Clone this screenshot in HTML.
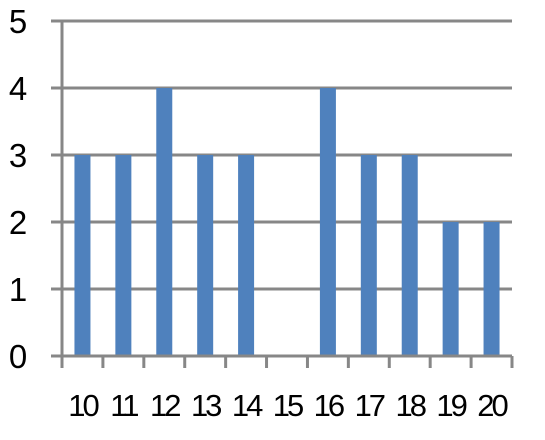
<!DOCTYPE html>
<html><head><meta charset="utf-8"><style>
html,body{margin:0;padding:0;background:#fff;}
svg{display:block;font-family:"Liberation Sans",sans-serif;}
</style></head><body>
<svg id="chart" width="545" height="440" viewBox="0 0 545 440"></svg>
<script>
const categories = ["10","11","12","13","14","15","16","17","18","19","20"];
const values = [3,3,4,3,3,0,4,3,3,2,2];
const yTicks = [0,1,2,3,4,5];

const svg = document.getElementById('chart');
const NS = 'http://www.w3.org/2000/svg';
const x0 = 62, x1 = 512, yBase = 356, yTop = 21, yMax = 5;
const band = (x1 - x0) / categories.length;
const barW = 16;
function yScale(v){ return yBase - (yBase - yTop) * v / yMax; }
function xScale(i){ return x0 + band * i; }
function mk(tag, attrs){ const e = document.createElementNS(NS, tag); for (const k in attrs) e.setAttribute(k, attrs[k]); svg.appendChild(e); return e; }

yTicks.forEach(t => {
  const y = yScale(t);
  const g = mk('line', {x1: 51, x2: x1, y1: y, y2: y, stroke: '#878787', 'stroke-width': 3});
  
  
  const tx = mk('text', {x: 18, y: y + 12, 'font-size': 33, 'text-anchor': 'middle', fill: '#000'});
  tx.textContent = t;
  
  
});

values.forEach((v, i) => {
  const cx = xScale(i) + band / 2;
  const r = mk('rect', {x: cx - barW / 2, y: yScale(v), width: barW, height: yBase - yScale(v), fill: '#4f81bd'});
  
  
});

const ax = mk('line', {x1: x0, x2: x0, y1: yTop - 1, y2: 368, stroke: '#878787', 'stroke-width': 3});


const bx = mk('line', {x1: 51, x2: x1, y1: yBase, y2: yBase, stroke: '#878787', 'stroke-width': 3});



for (let i = 0; i <= categories.length; i++) {
  const x = xScale(i);
  const tk = mk('line', {x1: x, x2: x, y1: yBase, y2: 368, stroke: '#878787', 'stroke-width': 3});
  
  
}
categories.forEach((c, i) => {
  const t = mk('text', {x: xScale(i) + band / 2, y: 416, 'font-size': 31, 'text-anchor': 'middle', fill: '#000', 'letter-spacing': '-3'});
  t.textContent = c;
  
  
});
</script>
</body></html>
